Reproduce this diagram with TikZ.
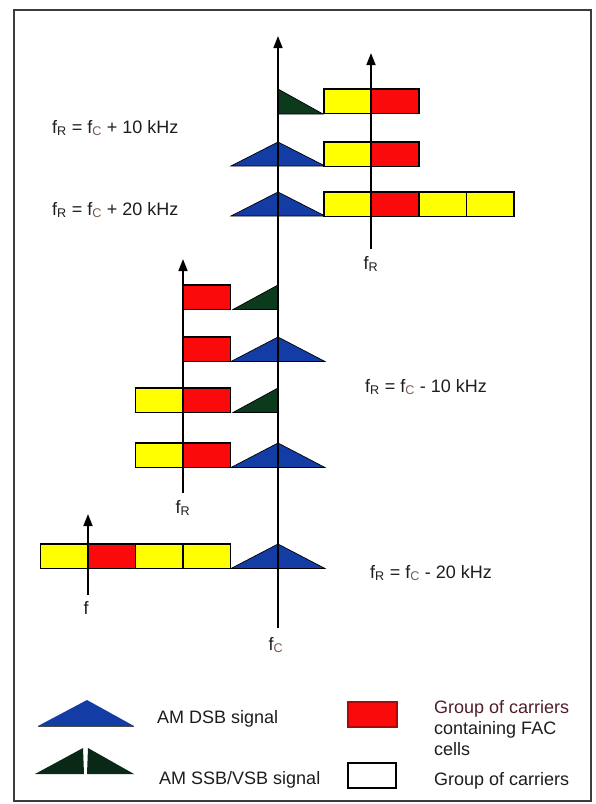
\documentclass[tikz,border=0pt]{standalone}
\usepackage{fontspec}
\setmainfont{Liberation Sans}
\usetikzlibrary{arrows.meta}
\definecolor{cyel}{RGB}{255,255,0}
\definecolor{cred}{RGB}{250,10,10}
\definecolor{cblue}{RGB}{20,60,165}
\definecolor{cgreen}{RGB}{12,58,28}
\definecolor{cdark}{RGB}{10,40,22}
\definecolor{ctext}{RGB}{30,28,28}
\definecolor{csub}{RGB}{120,90,75}
\definecolor{cleg}{RGB}{80,30,40}
\definecolor{cframe}{RGB}{60,60,60}
\newcommand{\sC}{\textsubscript{\textcolor{csub}{C}}}
\newcommand{\sR}{\textsubscript{R}}
\tikzset{
  cell/.style={draw=black, line width=1.1pt, minimum width=47.5pt, minimum height=24.5pt, inner sep=0pt, outer sep=0pt, anchor=north west},
  yc/.style={cell, fill=cyel},
  rc/.style={cell, fill=cred},
  dsb/.style={fill=cblue, draw=black, line width=0.7pt},
  ssb/.style={fill=cgreen, draw=black, line width=0.7pt},
  axis/.style={draw=black, line width=1.7pt, -{Triangle[length=12pt,width=9pt]}},
  lbl/.style={font=\fontsize{18}{21}\selectfont, text=ctext, inner sep=0pt, anchor=west},
  axl/.style={font=\fontsize{18}{21}\selectfont, text=ctext, inner sep=0pt},
}
\begin{document}
\begin{tikzpicture}[x=1pt,y=-1pt]
\useasboundingbox (0,0) rectangle (595,804);
\draw[cframe, line width=1.4pt] (14,10) rectangle (591,801);

% upper right group (fR = fC + ...)
\draw[ssb] (278,89) -- (278,114) -- (323,114) -- cycle;
\node[yc] (y1a) at (324,89) {};
\node[rc] (r1a) at (371.5,89) {};

\draw[dsb] (231,166) -- (278,142) -- (325,166) -- cycle;
\node[yc] (y2a) at (324,142) {};
\node[rc] (r2a) at (371.5,142) {};

\draw[dsb] (231,216) -- (278,192) -- (325,216) -- cycle;
\node[yc] (y3a) at (324,192) {};
\node[rc] (r3a) at (371.5,192) {};
\node[yc] (y3b) at (419,192) {};
\node[yc] (y3c) at (466.5,192) {};

% middle left group (fR = fC - 10 kHz)
\node[rc] (r4a) at (183,285) {};
\draw[ssb] (278,285) -- (278,309.5) -- (233,309.5) -- cycle;

\node[rc] (r5a) at (183,337) {};
\draw[dsb] (231,361.5) -- (278,337) -- (325,361.5) -- cycle;

\node[yc] (y6a) at (135.5,388) {};
\node[rc] (r6a) at (183,388) {};
\draw[ssb] (278,388) -- (278,412.5) -- (233,412.5) -- cycle;

\node[yc] (y7a) at (135.5,443) {};
\node[rc] (r7a) at (183,443) {};
\draw[dsb] (231,467.5) -- (278,443) -- (325,467.5) -- cycle;

% bottom group (fR = fC - 20 kHz)
\node[yc] (y8a) at (40.5,544) {};
\node[rc] (r8a) at (88,544) {};
\node[yc] (y8b) at (135.5,544) {};
\node[yc] (y8c) at (183,544) {};
\draw[dsb] (231,568.5) -- (278,544) -- (325,568.5) -- cycle;

% axes
\coordinate (mc0) at (278,628);
\coordinate (mc1) at (278,36);
\draw[axis] (mc0) -- (mc1);
\coordinate (ra0) at (371,249);
\coordinate (ra1) at (371,53);
\draw[axis] (ra0) -- (ra1);
\coordinate (la0) at (183,493);
\coordinate (la1) at (183,259);
\draw[axis] (la0) -- (la1);
\coordinate (fa0) at (88,595);
\coordinate (fa1) at (88,514);
\draw[axis] (fa0) -- (fa1);

% axis labels
\node[axl] (lfr1) at (371,264) {f\sR};
\node[axl] (lfr2) at (183,508) {f\sR};
\node[axl] (lf) at (86,608) {f};
\node[axl] (lfc) at (276,645) {f\sC};

% equations
\node[lbl] (e1) at (52,128) {f\sR\ = f\sC\ + 10 kHz};
\node[lbl] (e2) at (52,210) {f\sR\ = f\sC\ + 20 kHz};
\node[lbl] (e3) at (365,387) {f\sR\ = f\sC\ - 10 kHz};
\node[lbl] (e4) at (370,573) {f\sR\ = f\sC\ - 20 kHz};

% legend
\fill[cblue] (38,726) -- (87,700) -- (134,726) -- cycle;
\draw[black!70, line width=0.6pt] (38,726) -- (134,726);
\fill[cdark] (35,774) -- (83,748) -- (84,774) -- cycle;
\fill[cdark] (87,774) -- (88,748) -- (134,774) -- cycle;
\node[lbl] (t1) at (157,719) {AM DSB signal};
\node[lbl] (t2) at (159,780) {AM SSB/VSB signal};
\node[cell, fill=cred, draw=cred!70!black, minimum width=49pt, minimum height=25pt] (lr) at (348,702) {};
\node[cell, fill=white, minimum width=48pt, minimum height=25pt, line width=1.3pt] (lw) at (348,763) {};
\node[lbl, align=left, font=\fontsize{18}{21}\selectfont] (t3) at (434,728) {\textcolor{cleg}{Group of carriers}\\containing FAC\\cells};
\node[lbl] (t4) at (434,781) {Group of carriers};
\end{tikzpicture}
\end{document}
